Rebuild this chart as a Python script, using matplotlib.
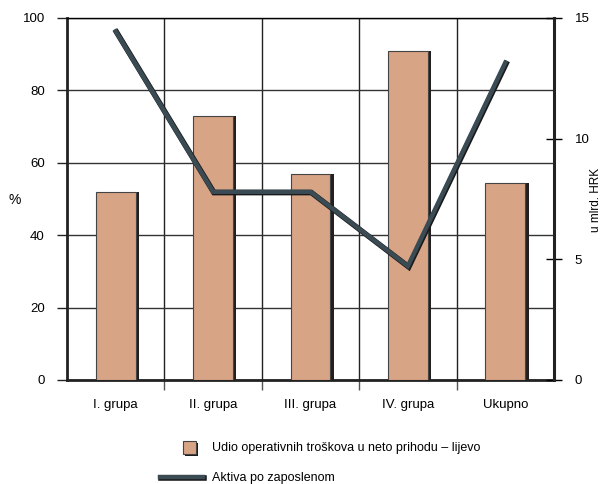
import matplotlib.pyplot as plt
from matplotlib.lines import Line2D
from matplotlib.patches import Rectangle
import matplotlib.patheffects as pe

plt.rcParams['font.family'] = ['Liberation Sans', 'DejaVu Sans']

groups = ['I. grupa', 'II. grupa', 'III. grupa', 'IV. grupa', 'Ukupno']
udio = [52, 73, 57, 91, 54.5]
aktiva = [14.45, 7.8, 7.8, 4.72, 13.15]

bar_col = '#d8a486'
line_col = '#3a4b54'
fs = 9.5

fig = plt.figure(figsize=(6.05, 4.84), dpi=100)
ax = fig.add_axes([67/605, 1 - 380/484, 487/605, 362/484])
x = list(range(len(groups)))

# shadow then bars
ax.bar([i + 0.035 for i in x], udio, width=0.41, color='#231f20', zorder=2)
ax.bar(x, udio, width=0.41, color=bar_col, edgecolor='#444444', linewidth=0.8, zorder=3)

ax.set_xlim(-0.5, 4.5)
ax.set_ylim(0, 100)
ax.set_yticks([0, 20, 40, 60, 80, 100])
ax.set_xticks([0.5, 1.5, 2.5, 3.5], minor=True)
ax.set_xticks(x)
ax.set_xticklabels(groups, fontsize=fs)
ax.tick_params(axis='x', which='major', length=0, pad=14)
ax.tick_params(axis='x', which='minor', length=7, width=1, color='#555555')
ax.tick_params(axis='y', length=7, width=1, labelsize=fs, color='#222222', pad=9)
ax.grid(axis='y', color='#333333', linewidth=1, zorder=0)
ax.grid(axis='x', which='minor', color='#222222', linewidth=1, zorder=0)
for s in ['left', 'bottom']:
    ax.spines[s].set_linewidth(2)
    ax.spines[s].set_color('#222222')
ax.spines['top'].set_linewidth(1)
ax.spines['right'].set_visible(False)

ax2 = ax.twinx()
ax2.set_ylim(0, 15)
ax2.set_yticks([0, 5, 10, 15])
ax2.tick_params(axis='y', direction='inout', length=12, width=1, labelsize=fs, pad=9)
ax2.spines['right'].set_linewidth(2.2)
ax2.spines['right'].set_color('#222222')
for s in ['left', 'top', 'bottom']:
    ax2.spines[s].set_visible(False)
ax2.plot(x, aktiva, color=line_col, linewidth=3.2, solid_joinstyle='miter',
         path_effects=[pe.Stroke(linewidth=4, foreground='#1a1a1a', offset=(0.6, -0.6)),
                       pe.Normal()], zorder=5)

# axis titles
fig.text(15/605, 1 - 200/484, '%', fontsize=fs + 0.5, ha='center', va='center')
fig.text(596/605, 1 - 200/484, 'u mlrd. HRK', fontsize=fs - 1, rotation=90,
         ha='center', va='center')

# legend
fig.patches.append(Rectangle((185/605, 1 - 456/484), 13/605, 13/484, transform=fig.transFigure,
                             facecolor='#1a1a1a', edgecolor='none'))
fig.patches.append(Rectangle((183/605, 1 - 454/484), 13/605, 13/484, transform=fig.transFigure,
                             facecolor=bar_col, edgecolor='#444444', linewidth=0.8))
fig.text(212/605, 1 - 448/484, 'Udio operativnih troškova u neto prihodu – lijevo',
         fontsize=fs - 0.5, va='center')
fig.lines.append(Line2D([160/605, 203/605], [1 - 477/484, 1 - 477/484], transform=fig.transFigure,
                        color=line_col, linewidth=3.2,
                        path_effects=[pe.Stroke(linewidth=4, foreground='#1a1a1a', offset=(0.6, -0.6)),
                                      pe.Normal()]))
fig.text(212/605, 1 - 478/484, 'Aktiva po zaposlenom', fontsize=fs - 0.5, va='center')

fig.savefig('out.png', dpi=100)
